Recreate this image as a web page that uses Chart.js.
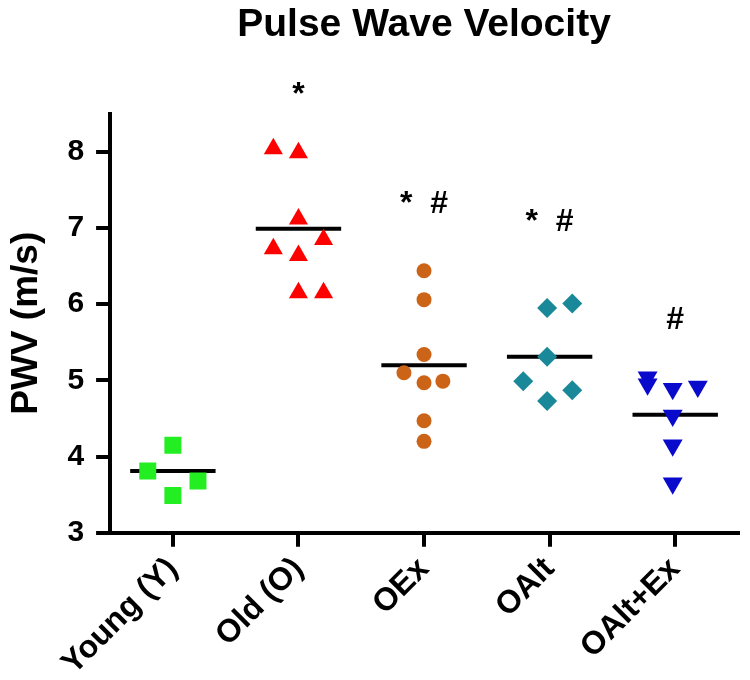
<!DOCTYPE html>
<html>
<head>
<meta charset="utf-8">
<script src="https://cdn.jsdelivr.net/npm/chart.js@4/dist/chart.umd.min.js"></script>
<style>
  html,body{margin:0;padding:0;background:#fff;}
  #wrap{width:750px;height:680px;}
</style>
</head>
<body>
<div id="wrap"><canvas id="chart"></canvas></div>
<script>
// Data
const groups = ["Young (Y)", "Old (O)", "OEx", "OAlt", "OAlt+Ex"];
const youngVals = [4.15, 3.81, 3.68, 3.49];
const youngJit  = [0, -0.2, 0.2, 0];
const oldVals   = [8.04, 7.99, 7.12, 6.85, 6.73, 6.64, 6.15, 6.15];
const oldJit    = [-0.2, 0, 0, 0.2, -0.2, 0, 0, 0.2];
const oexVals   = [6.44, 6.06, 5.34, 5.10, 4.97, 4.99, 4.47, 4.20];
const oexJit    = [0, 0, 0, -0.16, 0, 0.15, 0, 0];
const oaltVals  = [5.95, 6.01, 5.31, 4.99, 4.87, 4.73];
const oaltJit   = [-0.02, 0.18, -0.02, -0.21, 0.18, -0.02];
const oaexVals  = [5.04, 4.95, 4.89, 4.92, 4.54, 4.15, 3.65];
const oaexJit   = [-0.22, -0.22, -0.02, 0.18, -0.02, -0.02, -0.02];
const means     = [3.81, 6.99, 5.20, 5.31, 4.55];
const marks     = ["", "*", "*  #", "*  #", "#"];
const markY     = [null, 8.74, 7.32, 7.08, 5.79];
const yTicks    = [3, 4, 5, 6, 7, 8];

const FONT = "'Liberation Sans', Arial, sans-serif";
const el = id => document.getElementById(id);

const pts = (i, vals, jit) => vals.map((v, k) => ({x: i + jit[k], y: v}));
const meanLine = i => ({
  data: [{x: i - 0.34, y: means[i]}, {x: i + 0.34, y: means[i]}],
  showLine: true, borderColor: "#000", borderWidth: 4, pointRadius: 0, order: 2
});
const dots = (i, vals, jit, color, style, r, rot) => ({
  data: pts(i, vals, jit), backgroundColor: color, borderColor: color, borderWidth: 0,
  pointStyle: style, pointRadius: r, pointRotation: rot || 0, order: 1
});

// star / hash marks above groups
const marksPlugin = {
  id: "marks",
  afterDatasetsDraw(c){
    const ctx = c.ctx, xs = c.scales.x, ys = c.scales.y;
    ctx.save();
    ctx.fillStyle = "#000";
    ctx.font = "bold 32px " + FONT;
    ctx.textAlign = "center";
    ctx.textBaseline = "middle";
    marks.forEach((m, i) => {
      if (!m) return;
      ctx.fillText(m, xs.getPixelForValue(i), ys.getPixelForValue(markY[i]));
    });
    ctx.restore();
  }
};

new Chart(el("chart").getContext("2d"), {
  type: "scatter",
  data: {
    datasets: [
      dots(0, youngVals, youngJit, "#22ee22", "rect", 12),
      dots(1, oldVals, oldJit, "#ff0000", "triangle", 11),
      dots(2, oexVals, oexJit, "#cc6418", "circle", 7.5),
      dots(3, oaltVals, oaltJit, "#19899a", "rectRot", 10),
      dots(4, oaexVals, oaexJit, "#0a0acc", "triangle", 11.5, 180),
      meanLine(0), meanLine(1), meanLine(2), meanLine(3), meanLine(4)
    ]
  },
  options: {
    responsive: true,
    maintainAspectRatio: false,
    animation: false,
    layout: {padding: {left: 0, right: 8, top: 0, bottom: -6}},
    plugins: {
      legend: {display: false},
      tooltip: {enabled: false},
      title: {
        display: true, text: "Pulse Wave Velocity", color: "#000", fullSize: false,
        font: {family: FONT, size: 39, weight: "bold"},
        padding: {top: 2, bottom: 65}
      }
    },
    scales: {
      x: {
        type: "linear", min: -0.5, max: 4.5,
        afterBuildTicks: s => { s.ticks = groups.map((g, i) => ({value: i})); },
        ticks: {
          callback: v => groups[v], autoSkip: false, maxRotation: 45, minRotation: 45,
          color: "#000", padding: 8, font: {family: FONT, size: 32, weight: "bold", lineHeight: 0.8}
        },
        grid: {display: true, drawOnChartArea: false, drawTicks: true, tickLength: 14, lineWidth: 4, color: "#000"},
        border: {display: true, width: 4, color: "#000"}
      },
      y: {
        min: 3, max: 8.5,
        afterBuildTicks: s => { s.ticks = yTicks.map(v => ({value: v})); },
        ticks: {color: "#000", padding: 12, font: {family: FONT, size: 30, weight: "bold"}},
        grid: {display: true, drawOnChartArea: false, drawTicks: true, tickLength: 14, lineWidth: 4, color: "#000"},
        border: {display: true, width: 4, color: "#000"},
        title: {
          display: true, text: "PWV (m/s)", color: "#000",
          font: {family: FONT, size: 37, weight: "bold"},
          padding: {top: 5, bottom: 6}
        }
      }
    }
  },
  plugins: [marksPlugin]
});
</script>
</body>
</html>
